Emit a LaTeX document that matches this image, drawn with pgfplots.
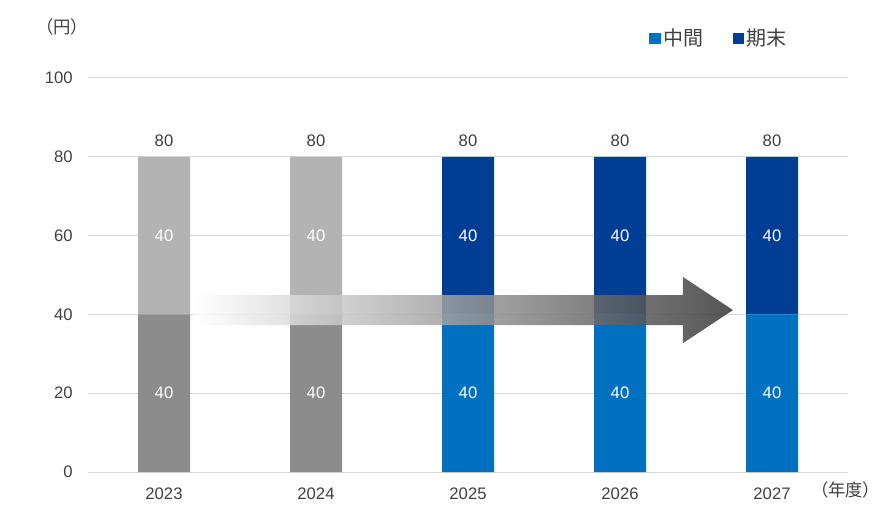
\documentclass[border=0pt]{standalone}
\usepackage{pgfplots}
\pgfplotsset{compat=1.18}
\usepackage{fontspec}
\setmainfont{Liberation Sans}
\newfontfamily\jp{Noto Sans CJK JP}[RawFeature=+palt]
\definecolor{gtop}{RGB}{179,179,179}
\definecolor{gbot}{RGB}{140,140,140}
\definecolor{bmid}{RGB}{0,112,192}
\definecolor{bend}{RGB}{0,62,150}
\definecolor{txt}{RGB}{64,64,64}
\definecolor{gridc}{RGB}{217,217,217}
\definecolor{arrowc}{RGB}{55,55,55}
\pgfplotsset{
  geom/.style={at={(0,0)}, anchor=south west,
    scale only axis, width=570pt, height=295.5pt,
    xmin=-0.5, xmax=4.5, ymin=0, ymax=100, clip=false},
}
\begin{document}
\begin{tikzpicture}
\useasboundingbox (-66pt,-39pt) rectangle (594pt,354pt);
\begin{axis}[
  geom,
  ybar stacked, bar width=39pt,
  xtick={0,1,2,3,4}, xticklabels={2023,2024,2025,2026,2027},
  ytick={0,20,40,60,80,100},
  axis line style={draw=none},
  major tick length=0pt,
  ymajorgrids, grid style={gridc, line width=0.75pt},
  /pgf/number format/assume math mode=true,
  tick label style={font=\fontsize{12.5pt}{14pt}\selectfont, text=txt},
  yticklabel style={xshift=-8pt},
  xticklabel style={yshift=-8pt},
  legend style={at={(0.733,1.10)}, anchor=west, draw=none, fill=none,
    legend columns=2, font=\jp\fontsize{15pt}{17pt}\selectfont, text=txt,
    /tikz/every even column/.append style={column sep=20pt}},
  legend image code/.code={\fill[#1] (0pt,-4pt) rectangle (8.5pt,4.5pt);},
]
\addplot[draw=none, fill=gbot, forget plot]
  coordinates {(0,40) (1,40) (2,0) (3,0) (4,0)};
\addplot[draw=none, fill=bmid]
  coordinates {(0,0) (1,0) (2,40) (3,40) (4,40)};
\addplot[draw=none, fill=gtop, forget plot]
  coordinates {(0,40) (1,40) (2,0) (3,0) (4,0)};
\addplot[draw=none, fill=bend]
  coordinates {(0,0) (1,0) (2,40) (3,40) (4,40)};
\legend{中間,期末}
\coordinate (a1) at (axis cs:0.20,44.9);
\coordinate (a2) at (axis cs:3.414,44.9);
\coordinate (a3) at (axis cs:3.414,49.5);
\coordinate (a4) at (axis cs:3.743,41.1);
\coordinate (a5) at (axis cs:3.414,32.7);
\coordinate (a6) at (axis cs:3.414,37.3);
\coordinate (a7) at (axis cs:0.20,37.3);
\coordinate (u1) at (axis description cs:-0.034,1.129);
\coordinate (u2) at (axis description cs:0.997,-0.046);
\end{axis}
\begin{scope}[fill opacity=0.85]
\shade[left color=white, right color=arrowc]
  (a1) -- (a2) -- (a3) -- (a4) -- (a5) -- (a6) -- (a7) -- cycle;
\end{scope}
\begin{axis}[geom, hide axis]
\addplot[only marks, mark=none, nodes near coords, point meta=explicit symbolic,
  every node near coord/.append style={text=white, font=\fontsize{12.5pt}{14pt}\selectfont, anchor=center}]
  coordinates {(0,20)[40] (1,20)[40] (2,20)[40] (3,20)[40] (4,20)[40]
               (0,60)[40] (1,60)[40] (2,60)[40] (3,60)[40] (4,60)[40]};
\addplot[only marks, mark=none, nodes near coords, point meta=explicit symbolic,
  every node near coord/.append style={text=txt, font=\fontsize{12.5pt}{14pt}\selectfont, anchor=south, yshift=4pt}]
  coordinates {(0,80)[80] (1,80)[80] (2,80)[80] (3,80)[80] (4,80)[80]};
\end{axis}
\node[inner sep=0pt, text=txt, font=\jp\fontsize{13pt}{15pt}\selectfont] at (u1) {（円）};
\node[inner sep=0pt, text=txt, font=\jp\fontsize{13pt}{15pt}\selectfont] at (u2) {（年度）};
\end{tikzpicture}
\end{document}
